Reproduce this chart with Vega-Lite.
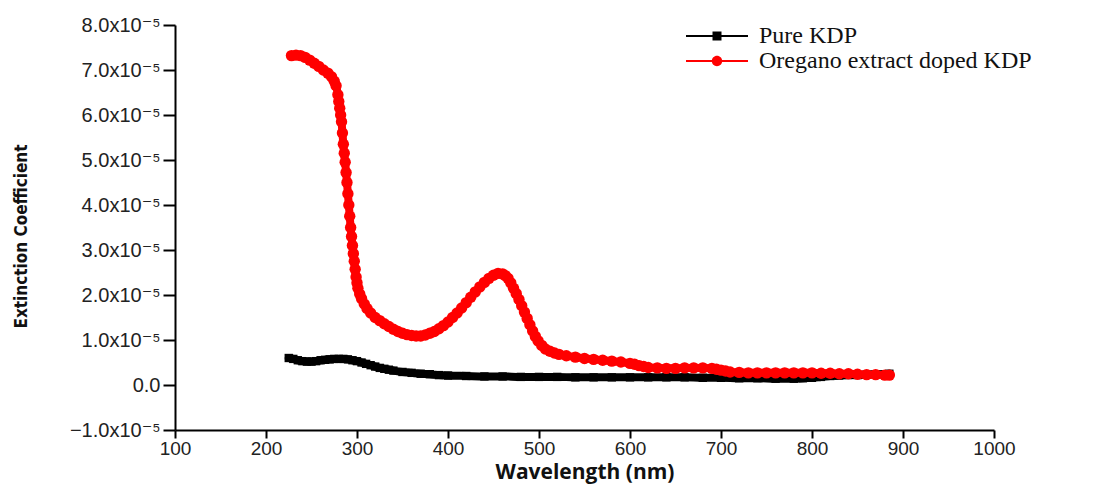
{
  "$schema": "https://vega.github.io/schema/vega-lite/v6.json",
  "width": 819,
  "height": 405,
  "autosize": {"type": "none"},
  "padding": {"left": 175, "top": 25, "right": 110, "bottom": 55},
  "background": "white",
  "config": {"view": {"stroke": null}},
  "data": {"values": [
    {"s":"Pure KDP","w":225,"k":0.60e-5},{"s":"Pure KDP","w":230,"k":0.58e-5},{"s":"Pure KDP","w":235,"k":0.55e-5},{"s":"Pure KDP","w":240,"k":0.53e-5},{"s":"Pure KDP","w":245,"k":0.52e-5},{"s":"Pure KDP","w":250,"k":0.52e-5},{"s":"Pure KDP","w":255,"k":0.53e-5},{"s":"Pure KDP","w":260,"k":0.55e-5},{"s":"Pure KDP","w":265,"k":0.56e-5},{"s":"Pure KDP","w":270,"k":0.57e-5},{"s":"Pure KDP","w":275,"k":0.58e-5},{"s":"Pure KDP","w":280,"k":0.58e-5},{"s":"Pure KDP","w":285,"k":0.58e-5},{"s":"Pure KDP","w":290,"k":0.57e-5},{"s":"Pure KDP","w":295,"k":0.55e-5},{"s":"Pure KDP","w":300,"k":0.53e-5},{"s":"Pure KDP","w":305,"k":0.50e-5},{"s":"Pure KDP","w":310,"k":0.47e-5},{"s":"Pure KDP","w":315,"k":0.44e-5},{"s":"Pure KDP","w":320,"k":0.41e-5},{"s":"Pure KDP","w":325,"k":0.38e-5},{"s":"Pure KDP","w":330,"k":0.36e-5},{"s":"Pure KDP","w":335,"k":0.34e-5},{"s":"Pure KDP","w":340,"k":0.32e-5},{"s":"Pure KDP","w":350,"k":0.29e-5},{"s":"Pure KDP","w":360,"k":0.27e-5},{"s":"Pure KDP","w":370,"k":0.25e-5},{"s":"Pure KDP","w":380,"k":0.24e-5},{"s":"Pure KDP","w":390,"k":0.22e-5},{"s":"Pure KDP","w":400,"k":0.21e-5},{"s":"Pure KDP","w":420,"k":0.20e-5},{"s":"Pure KDP","w":440,"k":0.19e-5},{"s":"Pure KDP","w":460,"k":0.19e-5},{"s":"Pure KDP","w":480,"k":0.18e-5},{"s":"Pure KDP","w":500,"k":0.18e-5},{"s":"Pure KDP","w":520,"k":0.18e-5},{"s":"Pure KDP","w":540,"k":0.17e-5},{"s":"Pure KDP","w":560,"k":0.17e-5},{"s":"Pure KDP","w":580,"k":0.17e-5},{"s":"Pure KDP","w":600,"k":0.17e-5},{"s":"Pure KDP","w":620,"k":0.17e-5},{"s":"Pure KDP","w":640,"k":0.17e-5},{"s":"Pure KDP","w":660,"k":0.17e-5},{"s":"Pure KDP","w":680,"k":0.16e-5},{"s":"Pure KDP","w":700,"k":0.16e-5},{"s":"Pure KDP","w":720,"k":0.15e-5},{"s":"Pure KDP","w":740,"k":0.15e-5},{"s":"Pure KDP","w":760,"k":0.14e-5},{"s":"Pure KDP","w":780,"k":0.14e-5},{"s":"Pure KDP","w":790,"k":0.15e-5},{"s":"Pure KDP","w":800,"k":0.16e-5},{"s":"Pure KDP","w":810,"k":0.18e-5},{"s":"Pure KDP","w":820,"k":0.20e-5},{"s":"Pure KDP","w":830,"k":0.21e-5},{"s":"Pure KDP","w":840,"k":0.22e-5},{"s":"Pure KDP","w":850,"k":0.22e-5},{"s":"Pure KDP","w":860,"k":0.23e-5},{"s":"Pure KDP","w":870,"k":0.24e-5},{"s":"Pure KDP","w":880,"k":0.24e-5},{"s":"Pure KDP","w":885,"k":0.25e-5},
    {"s":"Oregano extract doped KDP","w":228,"k":7.32e-5},{"s":"Oregano extract doped KDP","w":233,"k":7.33e-5},{"s":"Oregano extract doped KDP","w":238,"k":7.32e-5},{"s":"Oregano extract doped KDP","w":243,"k":7.28e-5},{"s":"Oregano extract doped KDP","w":248,"k":7.22e-5},{"s":"Oregano extract doped KDP","w":253,"k":7.15e-5},{"s":"Oregano extract doped KDP","w":258,"k":7.08e-5},{"s":"Oregano extract doped KDP","w":263,"k":7.0e-5},{"s":"Oregano extract doped KDP","w":268,"k":6.93e-5},{"s":"Oregano extract doped KDP","w":272,"k":6.85e-5},{"s":"Oregano extract doped KDP","w":275,"k":6.75e-5},{"s":"Oregano extract doped KDP","w":277,"k":6.65e-5},{"s":"Oregano extract doped KDP","w":279,"k":6.45e-5},{"s":"Oregano extract doped KDP","w":280,"k":6.3e-5},{"s":"Oregano extract doped KDP","w":281,"k":6.15e-5},{"s":"Oregano extract doped KDP","w":282,"k":6.0e-5},{"s":"Oregano extract doped KDP","w":283,"k":5.85e-5},{"s":"Oregano extract doped KDP","w":284,"k":5.6e-5},{"s":"Oregano extract doped KDP","w":285,"k":5.35e-5},{"s":"Oregano extract doped KDP","w":286,"k":5.15e-5},{"s":"Oregano extract doped KDP","w":287,"k":4.95e-5},{"s":"Oregano extract doped KDP","w":288,"k":4.72e-5},{"s":"Oregano extract doped KDP","w":289,"k":4.5e-5},{"s":"Oregano extract doped KDP","w":290,"k":4.25e-5},{"s":"Oregano extract doped KDP","w":291,"k":4.0e-5},{"s":"Oregano extract doped KDP","w":292,"k":3.75e-5},{"s":"Oregano extract doped KDP","w":293,"k":3.5e-5},{"s":"Oregano extract doped KDP","w":294,"k":3.3e-5},{"s":"Oregano extract doped KDP","w":295,"k":3.1e-5},{"s":"Oregano extract doped KDP","w":296,"k":2.92e-5},{"s":"Oregano extract doped KDP","w":297,"k":2.75e-5},{"s":"Oregano extract doped KDP","w":298,"k":2.57e-5},{"s":"Oregano extract doped KDP","w":299,"k":2.4e-5},{"s":"Oregano extract doped KDP","w":300,"k":2.27e-5},{"s":"Oregano extract doped KDP","w":301,"k":2.15e-5},{"s":"Oregano extract doped KDP","w":303,"k":2.02e-5},{"s":"Oregano extract doped KDP","w":305,"k":1.92e-5},{"s":"Oregano extract doped KDP","w":308,"k":1.8e-5},{"s":"Oregano extract doped KDP","w":311,"k":1.7e-5},{"s":"Oregano extract doped KDP","w":315,"k":1.6e-5},{"s":"Oregano extract doped KDP","w":320,"k":1.5e-5},{"s":"Oregano extract doped KDP","w":325,"k":1.43e-5},{"s":"Oregano extract doped KDP","w":330,"k":1.36e-5},{"s":"Oregano extract doped KDP","w":335,"k":1.3e-5},{"s":"Oregano extract doped KDP","w":340,"k":1.24e-5},{"s":"Oregano extract doped KDP","w":345,"k":1.19e-5},{"s":"Oregano extract doped KDP","w":350,"k":1.15e-5},{"s":"Oregano extract doped KDP","w":355,"k":1.12e-5},{"s":"Oregano extract doped KDP","w":360,"k":1.1e-5},{"s":"Oregano extract doped KDP","w":365,"k":1.09e-5},{"s":"Oregano extract doped KDP","w":370,"k":1.09e-5},{"s":"Oregano extract doped KDP","w":375,"k":1.11e-5},{"s":"Oregano extract doped KDP","w":380,"k":1.15e-5},{"s":"Oregano extract doped KDP","w":385,"k":1.19e-5},{"s":"Oregano extract doped KDP","w":390,"k":1.25e-5},{"s":"Oregano extract doped KDP","w":395,"k":1.32e-5},{"s":"Oregano extract doped KDP","w":400,"k":1.4e-5},{"s":"Oregano extract doped KDP","w":405,"k":1.5e-5},{"s":"Oregano extract doped KDP","w":410,"k":1.6e-5},{"s":"Oregano extract doped KDP","w":415,"k":1.71e-5},{"s":"Oregano extract doped KDP","w":420,"k":1.83e-5},{"s":"Oregano extract doped KDP","w":425,"k":1.95e-5},{"s":"Oregano extract doped KDP","w":430,"k":2.07e-5},{"s":"Oregano extract doped KDP","w":435,"k":2.18e-5},{"s":"Oregano extract doped KDP","w":440,"k":2.28e-5},{"s":"Oregano extract doped KDP","w":445,"k":2.37e-5},{"s":"Oregano extract doped KDP","w":450,"k":2.44e-5},{"s":"Oregano extract doped KDP","w":455,"k":2.48e-5},{"s":"Oregano extract doped KDP","w":460,"k":2.47e-5},{"s":"Oregano extract doped KDP","w":463,"k":2.43e-5},{"s":"Oregano extract doped KDP","w":466,"k":2.37e-5},{"s":"Oregano extract doped KDP","w":469,"k":2.27e-5},{"s":"Oregano extract doped KDP","w":472,"k":2.15e-5},{"s":"Oregano extract doped KDP","w":475,"k":2.03e-5},{"s":"Oregano extract doped KDP","w":478,"k":1.9e-5},{"s":"Oregano extract doped KDP","w":481,"k":1.76e-5},{"s":"Oregano extract doped KDP","w":484,"k":1.62e-5},{"s":"Oregano extract doped KDP","w":487,"k":1.48e-5},{"s":"Oregano extract doped KDP","w":490,"k":1.34e-5},{"s":"Oregano extract doped KDP","w":493,"k":1.2e-5},{"s":"Oregano extract doped KDP","w":496,"k":1.08e-5},{"s":"Oregano extract doped KDP","w":499,"k":0.98e-5},{"s":"Oregano extract doped KDP","w":503,"k":0.88e-5},{"s":"Oregano extract doped KDP","w":507,"k":0.8e-5},{"s":"Oregano extract doped KDP","w":512,"k":0.75e-5},{"s":"Oregano extract doped KDP","w":517,"k":0.71e-5},{"s":"Oregano extract doped KDP","w":522,"k":0.68e-5},{"s":"Oregano extract doped KDP","w":530,"k":0.65e-5},{"s":"Oregano extract doped KDP","w":540,"k":0.62e-5},{"s":"Oregano extract doped KDP","w":550,"k":0.59e-5},{"s":"Oregano extract doped KDP","w":560,"k":0.57e-5},{"s":"Oregano extract doped KDP","w":570,"k":0.55e-5},{"s":"Oregano extract doped KDP","w":580,"k":0.53e-5},{"s":"Oregano extract doped KDP","w":590,"k":0.51e-5},{"s":"Oregano extract doped KDP","w":600,"k":0.48e-5},{"s":"Oregano extract doped KDP","w":605,"k":0.46e-5},{"s":"Oregano extract doped KDP","w":610,"k":0.43e-5},{"s":"Oregano extract doped KDP","w":615,"k":0.41e-5},{"s":"Oregano extract doped KDP","w":620,"k":0.39e-5},{"s":"Oregano extract doped KDP","w":630,"k":0.38e-5},{"s":"Oregano extract doped KDP","w":640,"k":0.37e-5},{"s":"Oregano extract doped KDP","w":650,"k":0.37e-5},{"s":"Oregano extract doped KDP","w":660,"k":0.38e-5},{"s":"Oregano extract doped KDP","w":670,"k":0.38e-5},{"s":"Oregano extract doped KDP","w":680,"k":0.38e-5},{"s":"Oregano extract doped KDP","w":690,"k":0.37e-5},{"s":"Oregano extract doped KDP","w":695,"k":0.35e-5},{"s":"Oregano extract doped KDP","w":700,"k":0.33e-5},{"s":"Oregano extract doped KDP","w":705,"k":0.31e-5},{"s":"Oregano extract doped KDP","w":710,"k":0.29e-5},{"s":"Oregano extract doped KDP","w":720,"k":0.28e-5},{"s":"Oregano extract doped KDP","w":730,"k":0.27e-5},{"s":"Oregano extract doped KDP","w":740,"k":0.27e-5},{"s":"Oregano extract doped KDP","w":750,"k":0.27e-5},{"s":"Oregano extract doped KDP","w":760,"k":0.27e-5},{"s":"Oregano extract doped KDP","w":770,"k":0.27e-5},{"s":"Oregano extract doped KDP","w":780,"k":0.27e-5},{"s":"Oregano extract doped KDP","w":790,"k":0.27e-5},{"s":"Oregano extract doped KDP","w":800,"k":0.27e-5},{"s":"Oregano extract doped KDP","w":810,"k":0.26e-5},{"s":"Oregano extract doped KDP","w":820,"k":0.26e-5},{"s":"Oregano extract doped KDP","w":830,"k":0.25e-5},{"s":"Oregano extract doped KDP","w":840,"k":0.25e-5},{"s":"Oregano extract doped KDP","w":850,"k":0.24e-5},{"s":"Oregano extract doped KDP","w":860,"k":0.23e-5},{"s":"Oregano extract doped KDP","w":870,"k":0.23e-5},{"s":"Oregano extract doped KDP","w":880,"k":0.22e-5},{"s":"Oregano extract doped KDP","w":885,"k":0.22e-5}
  ]},
  "encoding": {
    "x": {"field": "w", "type": "quantitative",
      "scale": {"domain": [100, 1000], "nice": false, "zero": false},
      "axis": {"title": "Wavelength (nm)", "values": [100,200,300,400,500,600,700,800,900,1000], "format": "d",
        "grid": false, "domainColor": "#000", "domainWidth": 2, "tickColor": "#000", "tickWidth": 2, "tickSize": 8,
        "labelFont": "Liberation Sans, Arial, sans-serif", "labelFontSize": 19, "labelColor": "#222", "labelPadding": 1,
        "labelFlush": false, "labelOverlap": false,
        "titleFont": "Open Sans, DejaVu Sans, sans-serif", "titleFontWeight": "bold", "titleFontSize": 21, "titleColor": "#111",
        "titleY": 48, "titleBaseline": "alphabetic"}},
    "y": {"field": "k", "type": "quantitative",
      "scale": {"domain": [-1e-5, 8e-5], "nice": false, "zero": false},
      "axis": {"title": "Extinction Coefficient", "values": [-1e-5, 0, 1e-5, 2e-5, 3e-5, 4e-5, 5e-5, 6e-5, 7e-5, 8e-5],
        "labelExpr": "abs(datum.value) < 1e-9 ? '0.0' : format(datum.value * 1e5, '.1f') + 'x10⁻⁵'",
        "grid": false, "domainColor": "#000", "domainWidth": 2, "tickColor": "#000", "tickWidth": 2, "tickSize": 12,
        "labelFont": "Liberation Sans, Arial, DejaVu Sans, sans-serif", "labelFontSize": 20, "labelColor": "#222", "labelPadding": 3,
        "labelFlush": false, "labelOverlap": false,
        "titleFont": "Liberation Sans Narrow, DejaVu Sans Condensed, Roboto, sans-serif", "titleFontWeight": "bold", "titleFontSize": 17, "titleColor": "#111",
        "titleAngle": -90, "titleX": -154, "titleY": 211, "titleAlign": "center", "titleBaseline": "middle"}}
  },
  "layer": [
    {"transform": [{"filter": "datum.s === 'Pure KDP'"}],
     "mark": {"type": "line", "color": "#000", "strokeWidth": 8, "strokeCap": "round", "strokeJoin": "round", "interpolate": "monotone"}},
    {"transform": [{"filter": "datum.s === 'Pure KDP'"}],
     "mark": {"type": "point", "filled": true, "size": 70, "opacity": 1, "shape": "square"},
     "encoding": {
       "color": {"field": "s", "type": "nominal", "scale": {"domain": ["Pure KDP", "Oregano extract doped KDP"], "range": ["#000000", "#ff0000"]},
         "legend": {"title": null, "orient": "none", "legendX": 530, "legendY": -1, "padding": 0, "rowPadding": 1,
           "symbolSize": 400, "symbolStrokeWidth": 0, "labelOffset": 30,
           "symbolType": {"expr": "datum.value === 'Pure KDP' ? 'M-3.1,-0.1H-0.4V0.1H-3.1Z M0.4,-0.1H3.1V0.1H0.4Z M-0.45,-0.45H0.45V0.45H-0.45Z' : 'M-3.1,-0.1H-0.45V0.1H-3.1Z M0.45,-0.1H3.1V0.1H0.45Z M-0.52,0A0.52,0.52 0 1,1 0.52,0A0.52,0.52 0 1,1 -0.52,0Z'"},
           "labelFont": "Liberation Serif, Times New Roman, serif", "labelFontSize": 24, "labelColor": "#111", "labelLimit": 500,
           "encode": {"symbols": {"update": {"shape": {"signal": "datum.value === 'Pure KDP' ? 'M-3.1,-0.1H-0.4V0.1H-3.1Z M0.4,-0.1H3.1V0.1H0.4Z M-0.45,-0.45H0.45V0.45H-0.45Z' : 'M-3.1,-0.1H-0.45V0.1H-3.1Z M0.45,-0.1H3.1V0.1H0.45Z M-0.52,0A0.52,0.52 0 1,1 0.52,0A0.52,0.52 0 1,1 -0.52,0Z'"}, "strokeWidth": {"value": 0}}}}}}
     }},
    {"transform": [{"filter": "datum.s !== 'Pure KDP'"}],
     "mark": {"type": "line", "color": "#ff0000", "strokeWidth": 8, "strokeCap": "round", "strokeJoin": "round", "interpolate": "monotone"}},
    {"transform": [{"filter": "datum.s !== 'Pure KDP'"}],
     "mark": {"type": "point", "filled": true, "size": 130, "opacity": 1, "shape": "circle"},
     "encoding": {
       "color": {"field": "s", "type": "nominal"}
     }}
  ]
}
